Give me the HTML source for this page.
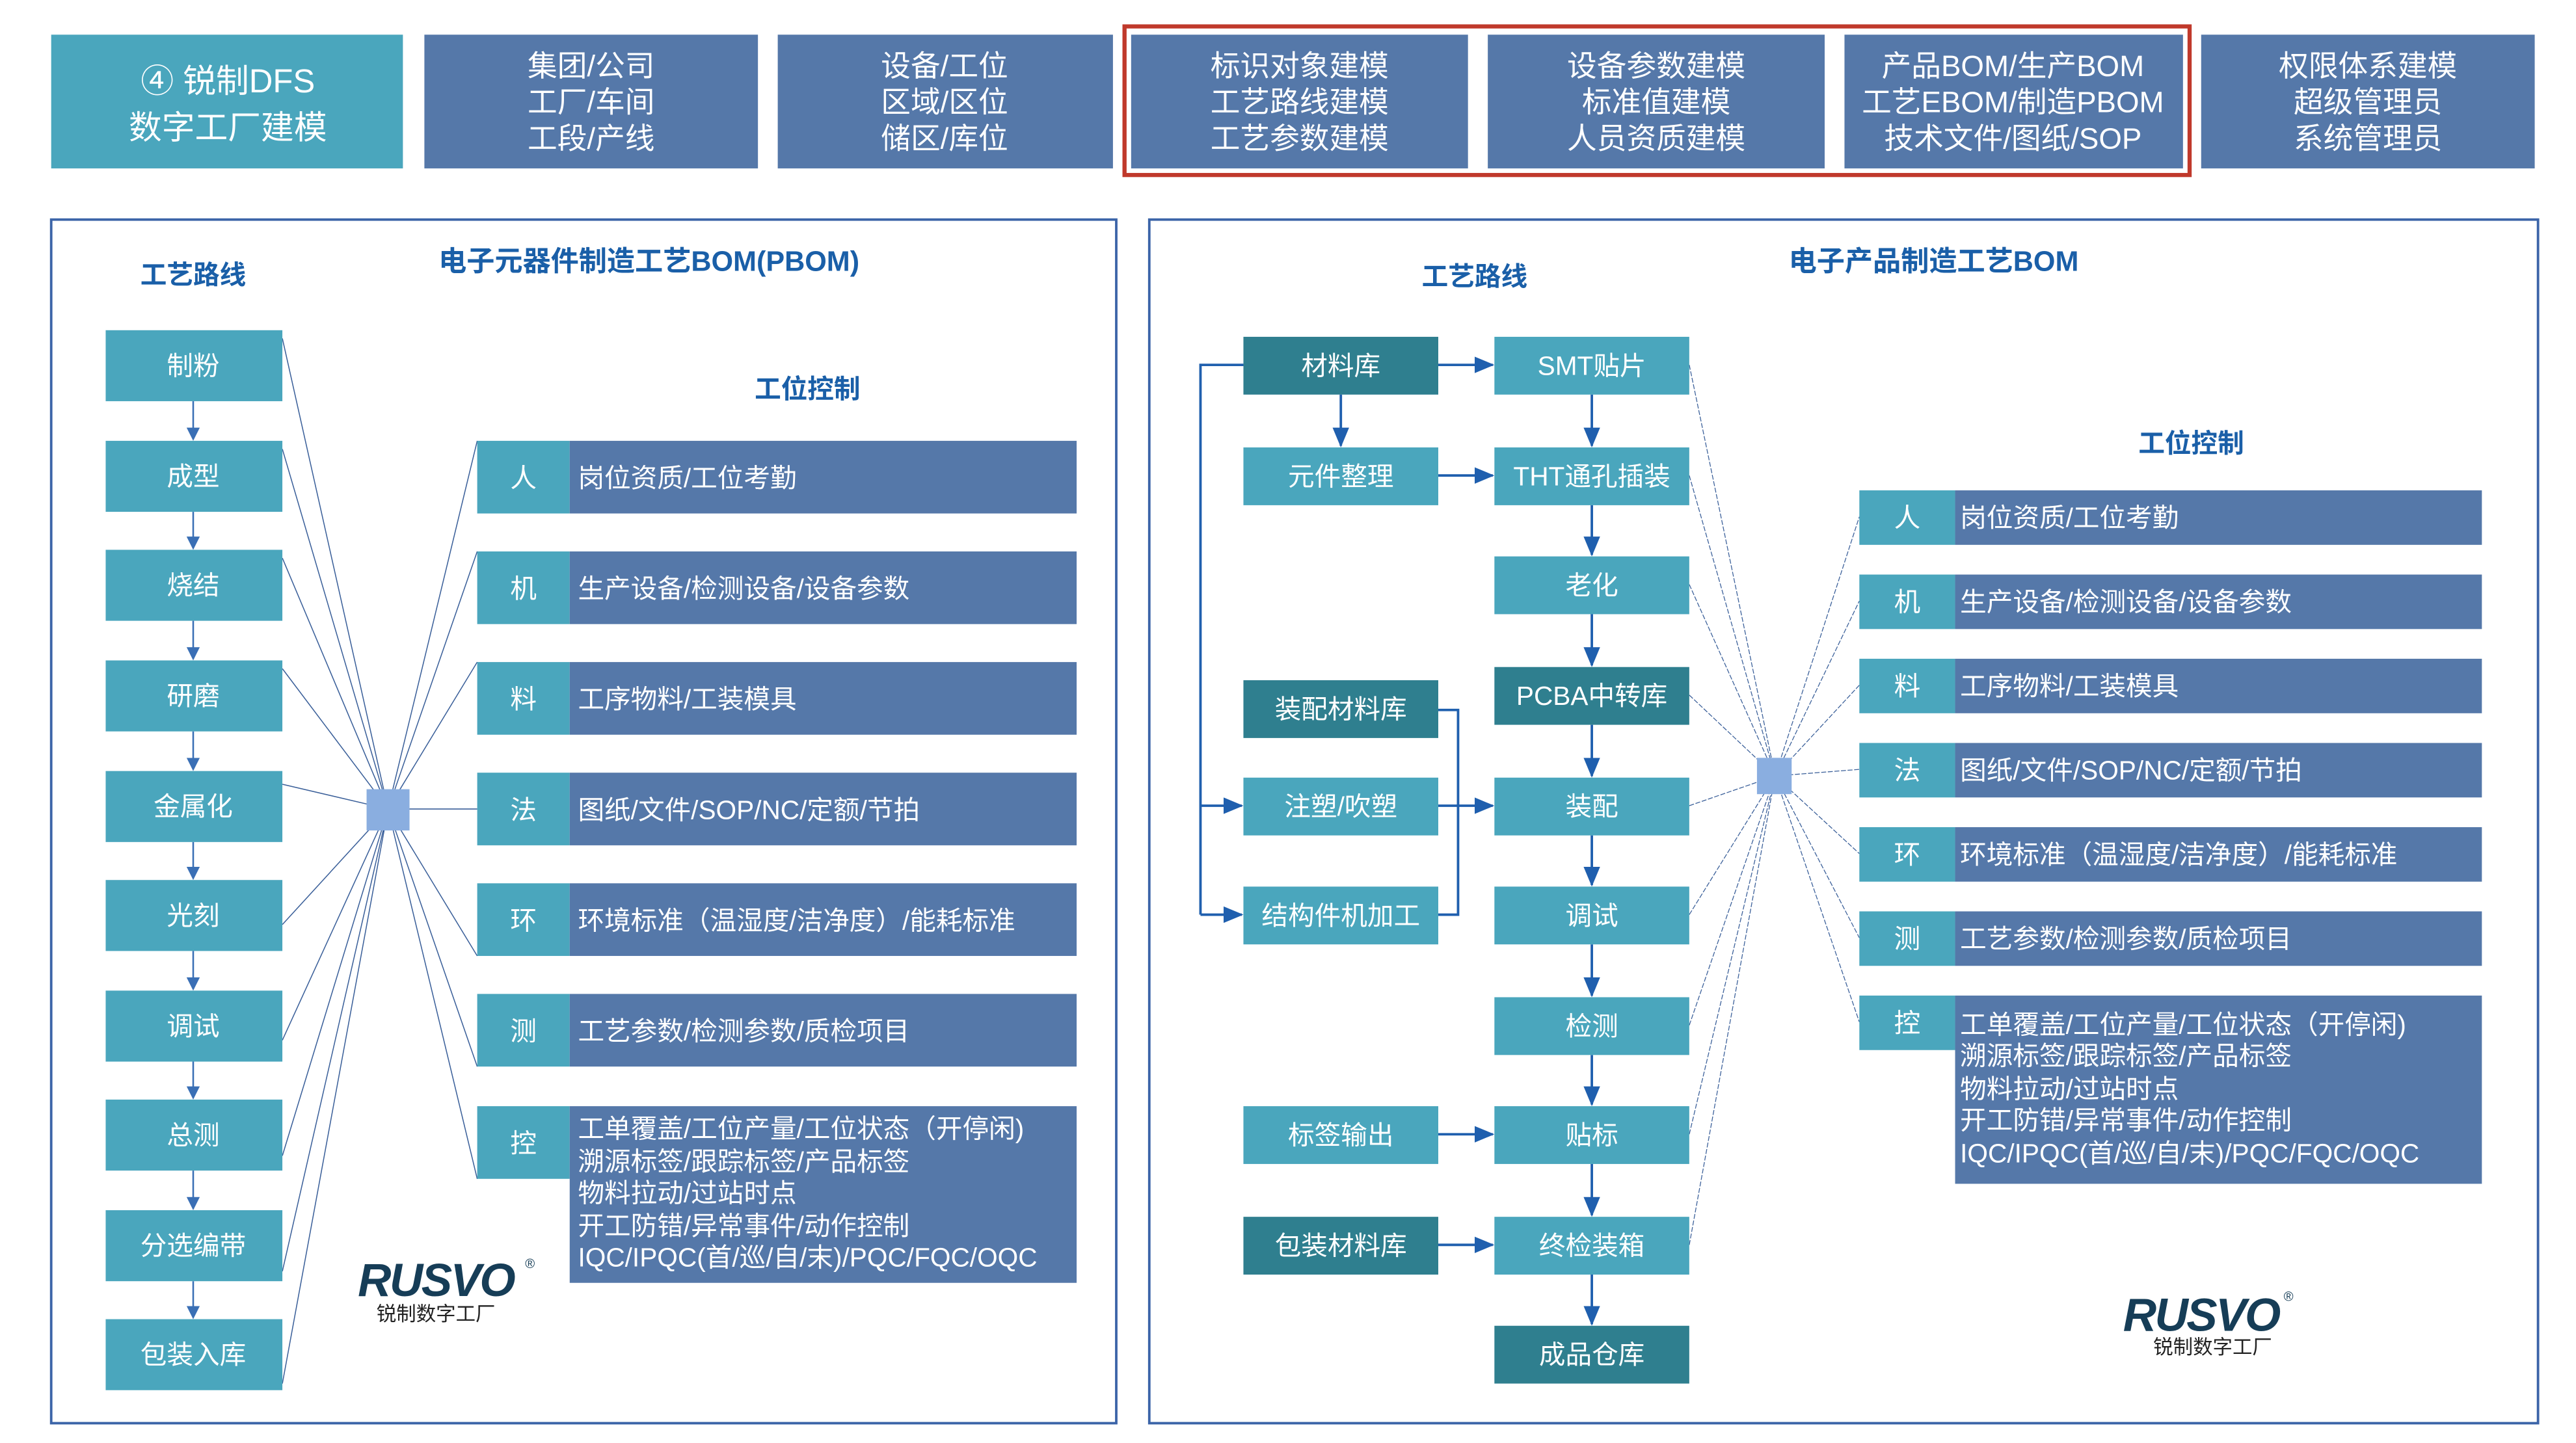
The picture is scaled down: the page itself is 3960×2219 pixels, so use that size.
<!DOCTYPE html>
<html><head><meta charset="utf-8"><style>
html,body{margin:0;padding:0;background:#fff;overflow:hidden;}
svg{display:block;}
text{font-family:"Liberation Sans","Noto Sans CJK SC",sans-serif;}
</style></head><body>
<svg width="3960" height="2219" viewBox="0 0 1560 874" preserveAspectRatio="none" xmlns="http://www.w3.org/2000/svg">
<defs>
<marker id="ar" markerWidth="8" markerHeight="8" refX="7" refY="4" orient="auto" markerUnits="userSpaceOnUse"><path d="M0,0 L8,4 L0,8 z" fill="#3a6fb5"/></marker>
<marker id="ar2" markerWidth="12" markerHeight="10" refX="11" refY="5" orient="auto" markerUnits="userSpaceOnUse"><path d="M0,0 L12,5 L0,10 z" fill="#1f5fae"/></marker>
</defs>
<rect width="1560" height="874" fill="#fff"/>
<!-- top bar -->
<g font-size="18" fill="#fff" text-anchor="middle">
<rect x="31" y="21" width="213" height="81" fill="#4aa6bd"/>
<text x="138" y="56" font-size="20">④ 锐制DFS</text>
<text x="138" y="84" font-size="20">数字工厂建模</text>
<rect x="257" y="21" width="202" height="81" fill="#5578a9"/>
<text x="358" y="46">集团/公司</text><text x="358" y="68">工厂/车间</text><text x="358" y="90">工段/产线</text>
<rect x="471" y="21" width="203" height="81" fill="#5578a9"/>
<text x="572" y="46">设备/工位</text><text x="572" y="68">区域/区位</text><text x="572" y="90">储区/库位</text>
<rect x="685" y="21" width="204" height="81" fill="#5578a9"/>
<text x="787" y="46">标识对象建模</text><text x="787" y="68">工艺路线建模</text><text x="787" y="90">工艺参数建模</text>
<rect x="901" y="21" width="204" height="81" fill="#5578a9"/>
<text x="1003" y="46">设备参数建模</text><text x="1003" y="68">标准值建模</text><text x="1003" y="90">人员资质建模</text>
<rect x="1117" y="21" width="205" height="81" fill="#5578a9"/>
<text x="1219" y="46">产品BOM/生产BOM</text><text x="1219" y="68">工艺EBOM/制造PBOM</text><text x="1219" y="90">技术文件/图纸/SOP</text>
<rect x="1333" y="21" width="202" height="81" fill="#5578a9"/>
<text x="1434" y="46">权限体系建模</text><text x="1434" y="68">超级管理员</text><text x="1434" y="90">系统管理员</text>
</g>
<rect x="681" y="16" width="645" height="90" fill="none" stroke="#c0392b" stroke-width="2.5"/>

<!-- left panel -->
<rect x="31" y="133" width="645" height="729" fill="none" stroke="#3b64a8" stroke-width="1.5"/>
<g font-weight="bold" fill="#1a5fa8" text-anchor="middle" font-size="16">
<text x="117" y="172">工艺路线</text>
<text x="393" y="164" font-size="17">电子元器件制造工艺BOM(PBOM)</text>
<text x="489" y="241">工位控制</text>
</g>
<g stroke="#3a5f99" stroke-width="0.6" fill="none">
<path d="M171,205 L235,490 M171,272 L235,490 M171,338 L235,490 M171,405 L235,490 M171,475 L235,490 M171,560 L235,490 M171,630 L235,490 M171,700 L235,490 M171,770 L235,490 M171,838 L235,490"/>
<path d="M235,490 L289,267 M235,490 L289,334 M235,490 L289,401 M235,490 L289,490 M235,490 L289,579 M235,490 L289,646 M235,490 L289,714"/>
</g>
<g stroke="#3a6fb5" stroke-width="1" marker-end="url(#ar)">
<line x1="117" y1="243" x2="117" y2="266"/><line x1="117" y1="310" x2="117" y2="332"/><line x1="117" y1="376" x2="117" y2="399"/><line x1="117" y1="443" x2="117" y2="466"/><line x1="117" y1="510" x2="117" y2="532"/><line x1="117" y1="576" x2="117" y2="599"/><line x1="117" y1="643" x2="117" y2="665"/><line x1="117" y1="709" x2="117" y2="732"/><line x1="117" y1="776" x2="117" y2="798"/>
</g>
<g fill="#4aa6bd">
<rect x="64" y="200" width="107" height="43"/><rect x="64" y="267" width="107" height="43"/><rect x="64" y="333" width="107" height="43"/><rect x="64" y="400" width="107" height="43"/><rect x="64" y="467" width="107" height="43"/><rect x="64" y="533" width="107" height="43"/><rect x="64" y="600" width="107" height="43"/><rect x="64" y="666" width="107" height="43"/><rect x="64" y="733" width="107" height="43"/><rect x="64" y="799" width="107" height="43"/>
</g>
<g fill="#fff" font-size="16" text-anchor="middle">
<text x="117" y="227">制粉</text><text x="117" y="294">成型</text><text x="117" y="360">烧结</text><text x="117" y="427">研磨</text><text x="117" y="494">金属化</text><text x="117" y="560">光刻</text><text x="117" y="627">调试</text><text x="117" y="693">总测</text><text x="117" y="760">分选编带</text><text x="117" y="826">包装入库</text>
</g>
<rect x="222" y="478" width="26" height="25" fill="#8aaee0"/>
<g>
<rect x="289" y="267" width="56" height="44" fill="#4aa6bd"/><rect x="345" y="267" width="307" height="44" fill="#5578a9"/>
<rect x="289" y="334" width="56" height="44" fill="#4aa6bd"/><rect x="345" y="334" width="307" height="44" fill="#5578a9"/>
<rect x="289" y="401" width="56" height="44" fill="#4aa6bd"/><rect x="345" y="401" width="307" height="44" fill="#5578a9"/>
<rect x="289" y="468" width="56" height="44" fill="#4aa6bd"/><rect x="345" y="468" width="307" height="44" fill="#5578a9"/>
<rect x="289" y="535" width="56" height="44" fill="#4aa6bd"/><rect x="345" y="535" width="307" height="44" fill="#5578a9"/>
<rect x="289" y="602" width="56" height="44" fill="#4aa6bd"/><rect x="345" y="602" width="307" height="44" fill="#5578a9"/>
<rect x="289" y="670" width="56" height="44" fill="#4aa6bd"/><rect x="345" y="670" width="307" height="107" fill="#5578a9"/>
</g>
<g fill="#fff" font-size="16">
<g text-anchor="middle"><text x="317" y="295">人</text><text x="317" y="362">机</text><text x="317" y="429">料</text><text x="317" y="496">法</text><text x="317" y="563">环</text><text x="317" y="630">测</text><text x="317" y="698">控</text></g>
<text x="350" y="295">岗位资质/工位考勤</text><text x="350" y="362">生产设备/检测设备/设备参数</text><text x="350" y="429">工序物料/工装模具</text><text x="350" y="496">图纸/文件/SOP/NC/定额/节拍</text><text x="350" y="563">环境标准（温湿度/洁净度）/能耗标准</text><text x="350" y="630">工艺参数/检测参数/质检项目</text>
<text x="350" y="689">工单覆盖/工位产量/工位状态（开停闲)</text><text x="350" y="709">溯源标签/跟踪标签/产品标签</text><text x="350" y="728">物料拉动/过站时点</text><text x="350" y="748">开工防错/异常事件/动作控制</text><text x="350" y="767">IQC/IPQC(首/巡/自/末)/PQC/FQC/OQC</text>
</g>
<g>
<text x="264" y="785" font-size="28" font-weight="bold" font-style="italic" fill="#163d57" text-anchor="middle" letter-spacing="-1">RUSVO</text>
<text x="318" y="768" font-size="8" fill="#163d57">®</text>
<text x="264" y="800" font-size="12" fill="#222" text-anchor="middle">锐制数字工厂</text>
</g>

<!-- right panel -->
<rect x="696" y="133" width="841" height="729" fill="none" stroke="#3b64a8" stroke-width="1.5"/>
<g font-weight="bold" fill="#1a5fa8" text-anchor="middle" font-size="16">
<text x="893" y="173">工艺路线</text>
<text x="1171" y="164" font-size="17">电子产品制造工艺BOM</text>
<text x="1327" y="274">工位控制</text>
</g>
<g stroke="#3a5f99" stroke-width="0.5" fill="none" stroke-dasharray="3,1">
<path d="M1023,221 L1075,470 M1023,288 L1075,470 M1023,354 L1075,470 M1023,421 L1075,470 M1023,488 L1075,470 M1023,554 L1075,470 M1023,621 L1075,470 M1023,687 L1075,470 M1023,754 L1075,470"/>
<path d="M1075,470 L1126,313 M1075,470 L1126,364 M1075,470 L1126,415 M1075,470 L1126,466 M1075,470 L1126,517 M1075,470 L1126,568 M1075,470 L1126,619"/>
</g>
<g stroke="#1f5fae" stroke-width="1.5" fill="none">
<g marker-end="url(#ar2)">
<line x1="964" y1="239" x2="964" y2="270"/><line x1="964" y1="306" x2="964" y2="336"/><line x1="964" y1="372" x2="964" y2="403"/><line x1="964" y1="439" x2="964" y2="470"/><line x1="964" y1="506" x2="964" y2="536"/><line x1="964" y1="572" x2="964" y2="603"/><line x1="964" y1="639" x2="964" y2="669"/><line x1="964" y1="705" x2="964" y2="736"/><line x1="964" y1="772" x2="964" y2="802"/><line x1="812" y1="239" x2="812" y2="270"/>
<line x1="871" y1="221" x2="904" y2="221"/><line x1="871" y1="288" x2="904" y2="288"/><line x1="871" y1="488" x2="904" y2="488"/><line x1="871" y1="687" x2="904" y2="687"/><line x1="871" y1="754" x2="904" y2="754"/>
<line x1="727" y1="488" x2="752" y2="488"/><line x1="727" y1="554" x2="752" y2="554"/>
</g>
<path d="M753,221 H727 V554"/>
<path d="M871,430 H883 V554 H871"/>
</g>
<g>
<rect x="753" y="204" width="118" height="35" fill="#2f7f8f"/>
<rect x="753" y="271" width="118" height="35" fill="#4aa6bd"/>
<rect x="753" y="412" width="118" height="35" fill="#2f7f8f"/>
<rect x="753" y="471" width="118" height="35" fill="#4aa6bd"/>
<rect x="753" y="537" width="118" height="35" fill="#4aa6bd"/>
<rect x="753" y="670" width="118" height="35" fill="#4aa6bd"/>
<rect x="753" y="737" width="118" height="35" fill="#2f7f8f"/>
<rect x="905" y="204" width="118" height="35" fill="#4aa6bd"/>
<rect x="905" y="271" width="118" height="35" fill="#4aa6bd"/>
<rect x="905" y="337" width="118" height="35" fill="#4aa6bd"/>
<rect x="905" y="404" width="118" height="35" fill="#2f7f8f"/>
<rect x="905" y="471" width="118" height="35" fill="#4aa6bd"/>
<rect x="905" y="537" width="118" height="35" fill="#4aa6bd"/>
<rect x="905" y="604" width="118" height="35" fill="#4aa6bd"/>
<rect x="905" y="670" width="118" height="35" fill="#4aa6bd"/>
<rect x="905" y="737" width="118" height="35" fill="#4aa6bd"/>
<rect x="905" y="803" width="118" height="35" fill="#2f7f8f"/>
</g>
<g fill="#fff" font-size="16" text-anchor="middle">
<text x="812" y="227">材料库</text><text x="812" y="294">元件整理</text><text x="812" y="435">装配材料库</text><text x="812" y="494">注塑/吹塑</text><text x="812" y="560">结构件机加工</text><text x="812" y="693">标签输出</text><text x="812" y="760">包装材料库</text>
<text x="964" y="227">SMT贴片</text><text x="964" y="294">THT通孔插装</text><text x="964" y="360">老化</text><text x="964" y="427">PCBA中转库</text><text x="964" y="494">装配</text><text x="964" y="560">调试</text><text x="964" y="627">检测</text><text x="964" y="693">贴标</text><text x="964" y="760">终检装箱</text><text x="964" y="826">成品仓库</text>
</g>
<rect x="1064" y="459" width="21" height="22" fill="#8aaee0"/>
<g>
<rect x="1126" y="297" width="58" height="33" fill="#4aa6bd"/><rect x="1184" y="297" width="319" height="33" fill="#5578a9"/>
<rect x="1126" y="348" width="58" height="33" fill="#4aa6bd"/><rect x="1184" y="348" width="319" height="33" fill="#5578a9"/>
<rect x="1126" y="399" width="58" height="33" fill="#4aa6bd"/><rect x="1184" y="399" width="319" height="33" fill="#5578a9"/>
<rect x="1126" y="450" width="58" height="33" fill="#4aa6bd"/><rect x="1184" y="450" width="319" height="33" fill="#5578a9"/>
<rect x="1126" y="501" width="58" height="33" fill="#4aa6bd"/><rect x="1184" y="501" width="319" height="33" fill="#5578a9"/>
<rect x="1126" y="552" width="58" height="33" fill="#4aa6bd"/><rect x="1184" y="552" width="319" height="33" fill="#5578a9"/>
<rect x="1126" y="603" width="58" height="33" fill="#4aa6bd"/><rect x="1184" y="603" width="319" height="114" fill="#5578a9"/>
</g>
<g fill="#fff" font-size="16">
<g text-anchor="middle"><text x="1155" y="319">人</text><text x="1155" y="370">机</text><text x="1155" y="421">料</text><text x="1155" y="472">法</text><text x="1155" y="523">环</text><text x="1155" y="574">测</text><text x="1155" y="625">控</text></g>
<text x="1187" y="319">岗位资质/工位考勤</text><text x="1187" y="370">生产设备/检测设备/设备参数</text><text x="1187" y="421">工序物料/工装模具</text><text x="1187" y="472">图纸/文件/SOP/NC/定额/节拍</text><text x="1187" y="523">环境标准（温湿度/洁净度）/能耗标准</text><text x="1187" y="574">工艺参数/检测参数/质检项目</text>
<text x="1187" y="626">工单覆盖/工位产量/工位状态（开停闲)</text><text x="1187" y="645">溯源标签/跟踪标签/产品标签</text><text x="1187" y="665">物料拉动/过站时点</text><text x="1187" y="684">开工防错/异常事件/动作控制</text><text x="1187" y="704">IQC/IPQC(首/巡/自/末)/PQC/FQC/OQC</text>
</g>
<g>
<text x="1333" y="806" font-size="28" font-weight="bold" font-style="italic" fill="#163d57" text-anchor="middle" letter-spacing="-1">RUSVO</text>
<text x="1383" y="788" font-size="8" fill="#163d57">®</text>
<text x="1340" y="820" font-size="12" fill="#222" text-anchor="middle">锐制数字工厂</text>
</g>
</svg>
</body></html>
